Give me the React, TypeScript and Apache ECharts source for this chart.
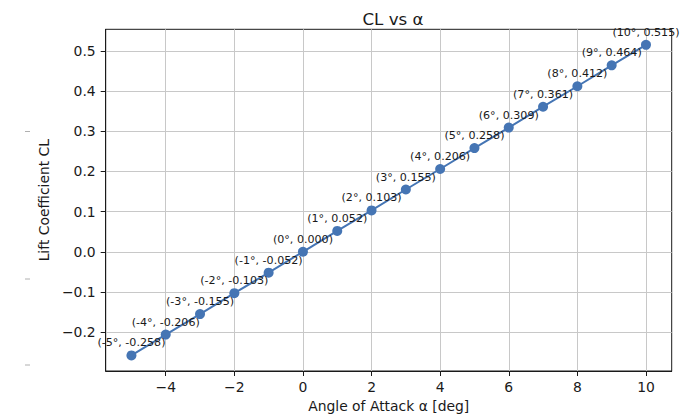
import React, { useEffect, useRef } from "react";
import * as echarts from "echarts";

const alphaDeg = [-5, -4, -3, -2, -1, 0, 1, 2, 3, 4, 5, 6, 7, 8, 9, 10];
const clValues = [
  -0.258, -0.206, -0.155, -0.103, -0.052, 0.0, 0.052, 0.103, 0.155, 0.206,
  0.258, 0.309, 0.361, 0.412, 0.464, 0.515,
];
const xTicks = [-4, -2, 0, 2, 4, 6, 8, 10];
const yTicks = [-0.2, -0.1, 0.0, 0.1, 0.2, 0.3, 0.4, 0.5];

const FONT = "DejaVu Sans";
const fmtMinus = (s: string) => s.replace("-", "\u2212");

export default function App() {
  const ref = useRef<HTMLDivElement>(null);
  useEffect(() => {
    if (!ref.current) return;
    const chart = echarts.init(ref.current, null, { renderer: "svg" });
    const data = alphaDeg.map((a, i) => [a, clValues[i]]);
    chart.setOption({
      animation: false,
      backgroundColor: "#ffffff",
      textStyle: { fontFamily: FONT },
      title: {
        text: "CL vs α",
        left: 388,
        textAlign: "center",
        top: 5,
        textStyle: { fontFamily: FONT, fontSize: 16.7, fontWeight: "normal", color: "#1a1a1a" },
      },
      grid: {
        left: 105.7,
        right: 25.3,
        top: 29.3,
        bottom: 48,
        show: true,
        borderColor: "#1a1a1a",
        borderWidth: 1,
        containLabel: false,
      },
      xAxis: {
        type: "value",
        min: -5.75,
        max: 10.75,
        name: "Angle of Attack α [deg]",
        nameLocation: "middle",
        nameGap: 28,
        nameTextStyle: { fontFamily: FONT, fontSize: 13.9, color: "#1a1a1a" },
        axisLine: { show: true, onZero: false, lineStyle: { color: "#1a1a1a", width: 1 } },
        axisTick: { show: true, customValues: xTicks, length: 5, lineStyle: { color: "#1a1a1a" } },
        axisLabel: {
          customValues: xTicks,
          margin: 9,
          fontFamily: FONT,
          fontSize: 13.9,
          color: "#1a1a1a",
          formatter: (v: number) => fmtMinus(String(v)),
        },
        splitLine: { show: true, lineStyle: { color: "#c8c8c8", width: 1 } },
      },
      yAxis: {
        type: "value",
        min: -0.2967,
        max: 0.5537,
        name: "Lift Coefficient CL",
        nameLocation: "middle",
        nameGap: 53,
        nameTextStyle: { fontFamily: FONT, fontSize: 13.9, color: "#1a1a1a" },
        axisLine: { show: true, onZero: false, lineStyle: { color: "#1a1a1a", width: 1 } },
        axisTick: { show: true, customValues: yTicks, length: 5, lineStyle: { color: "#1a1a1a" } },
        axisLabel: {
          customValues: yTicks,
          margin: 10,
          fontFamily: FONT,
          fontSize: 13.9,
          color: "#1a1a1a",
          formatter: (v: number) => fmtMinus(v.toFixed(1)),
        },
        splitLine: { show: true, lineStyle: { color: "#c8c8c8", width: 1 } },
      },
      series: [
        {
          type: "line",
          data,
          symbol: "circle",
          symbolSize: 10,
          itemStyle: { color: "#4575b4" },
          lineStyle: { color: "#4575b4", width: 2 },
          label: {
            show: true,
            position: "top",
            distance: 2,
            fontFamily: FONT,
            fontSize: 11.1,
            color: "#1a1a1a",
            formatter: (p: any) => `(${p.value[0]}°, ${p.value[1].toFixed(3)})`,
          },
          labelLayout: { hideOverlap: false },
          z: 3,
        },
      ],
      graphic: [
        { type: "line", shape: { x1: 25, y1: 131.5, x2: 30, y2: 131.5 }, style: { stroke: "#b0b0b0", lineWidth: 1 } },
        { type: "line", shape: { x1: 25, y1: 279, x2: 30, y2: 279 }, style: { stroke: "#b0b0b0", lineWidth: 1 } },
        { type: "line", shape: { x1: 25, y1: 365, x2: 30, y2: 365 }, style: { stroke: "#b0b0b0", lineWidth: 1 } },
      ],
    });
    return () => chart.dispose();
  }, []);
  return (
    <div
      ref={ref}
      style={{ position: "fixed", left: 0, top: 0, width: 697, height: 419 }}
    />
  );
}
